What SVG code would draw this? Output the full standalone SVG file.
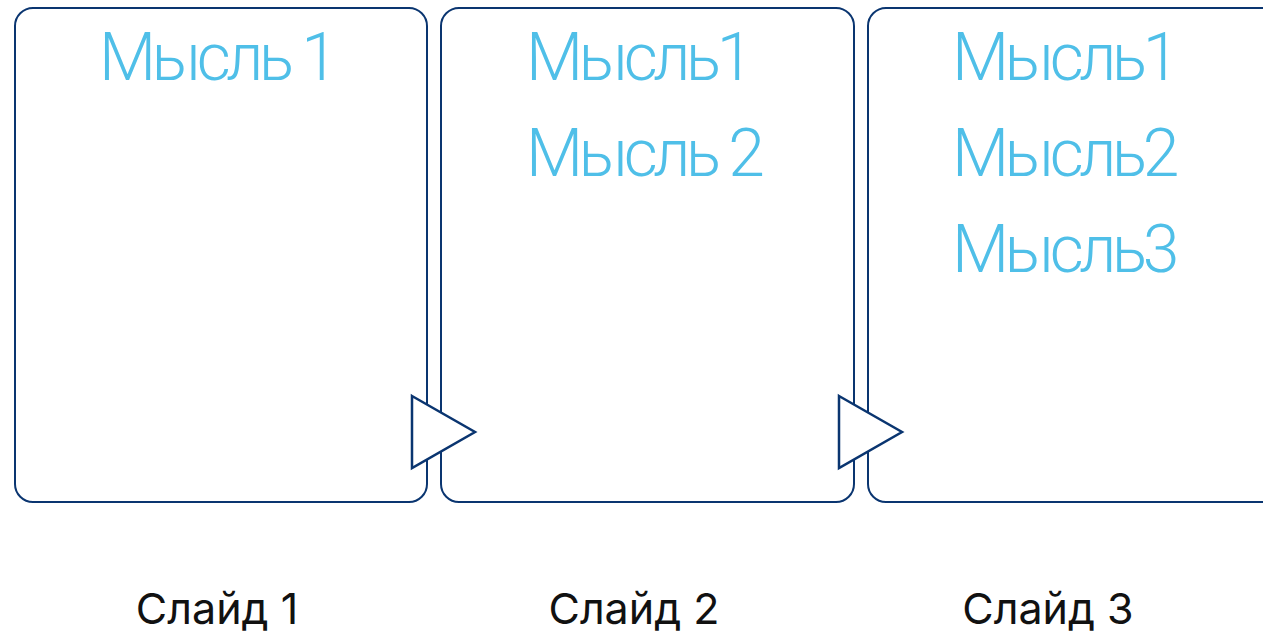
<svg xmlns="http://www.w3.org/2000/svg" width="1263" height="634" viewBox="0 0 1263 634">
<style>
.box{fill:#fff;stroke:#0a3570;stroke-width:2}
.tri{fill:#fff;stroke:#0a3570;stroke-width:2.5;stroke-linejoin:miter}
.t{font-family:Roboto,Inter,"Noto Sans",sans-serif;font-size:66px;font-weight:300;fill:#4fbfe8;letter-spacing:-4.5px}
.s{font-family:Inter,"Noto Sans",sans-serif;font-size:43px;fill:#111;text-anchor:middle}
</style>
<rect width="1263" height="634" fill="#fff"/>
<g id="slide1"><rect class="box" x="15" y="8" width="412" height="494" rx="18"/>
<text class="t" x="99" y="80">Мысль 1</text></g>
<g id="slide2"><rect class="box" x="441" y="8" width="413" height="494" rx="18"/>
<text class="t" x="526" y="80">Мысль1</text><text class="t" x="526" y="176">Мысль 2</text></g>
<g id="slide3"><rect class="box" x="868" y="8" width="413" height="494" rx="18"/>
<text class="t" x="952" y="80">Мысль1</text><text class="t" x="952" y="176">Мысль2</text><text class="t" x="952" y="272">Мысль3</text></g>
<g id="connectors">
<polygon class="tri" points="412,396 475,432 412,468"/>
<polygon class="tri" points="839,396 902,432 839,468"/>
</g>
<g id="labels">
<text class="s" x="217" y="624">Слайд 1</text>
<text class="s" x="634" y="624">Слайд 2</text>
<text class="s" x="1048" y="624">Слайд 3</text>
</g>
</svg>
